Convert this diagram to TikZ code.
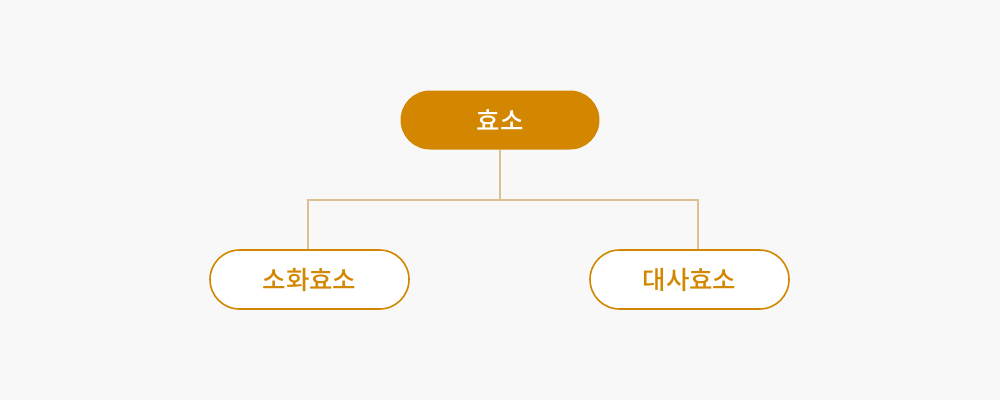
\documentclass[tikz,border=0pt]{standalone}
\usepackage{fontspec}
\setmainfont{Noto Sans CJK KR}[BoldFont={Noto Sans CJK KR Medium}]
\usetikzlibrary{positioning}
\definecolor{gold}{HTML}{D38700}
\definecolor{goldline}{HTML}{DCC08F}
\definecolor{paper}{HTML}{F8F8F8}
\tikzset{
	pill/.style={minimum width=199pt, minimum height=59pt, rounded corners=29.5pt, font=\fontsize{25.5}{30}\selectfont\bfseries, inner sep=0pt},
	topbox/.style={pill, fill=gold, text=white},
	childbox/.style={pill, draw=gold, line width=1.6pt, fill=white, text=gold},
	link/.style={draw=goldline, line width=1.6pt}
}

\begin{document}
\begin{tikzpicture}[x=1pt,y=-1pt]
	\fill[paper] (0,0) rectangle (1000,400);
	\useasboundingbox (0,0) rectangle (1000,400);
	\node[topbox] (enzyme) at (500,120) {효소};
	\node[childbox] (digest) at (309.5,279.5) {소화효소};
	\node[childbox] (metab) at (689.5,279.5) {대사효소};
	\draw[link] (enzyme.south) -- ++(0,50) coordinate (split);
	\draw[link] ([xshift=-1.5pt]digest.north) |- (split) -| ([xshift=8.5pt]metab.north);
\end{tikzpicture}
\end{document}
